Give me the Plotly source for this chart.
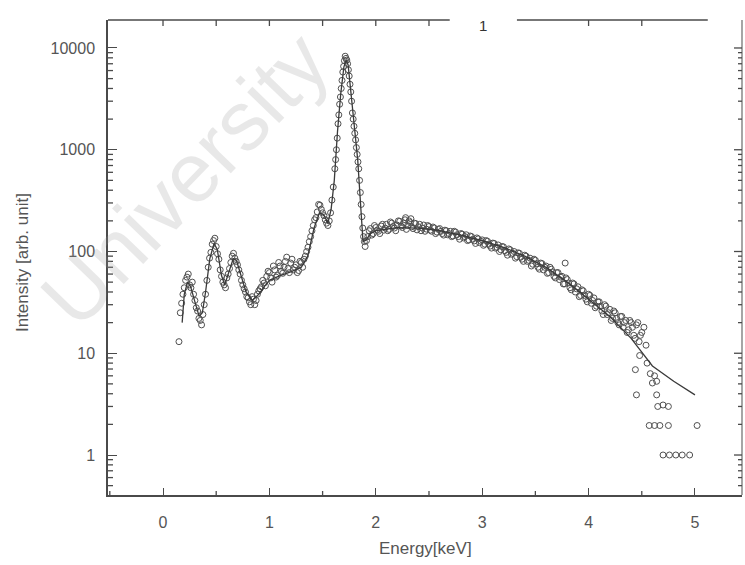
import plotly.graph_objects as go

# Measured spectrum: photon energy (keV) and intensity (arb. unit), two sweeps
energy_low = [0.150, 0.175, 0.200, 0.225, 0.250, 0.275, 0.300, 0.325, 0.350, 0.375,
              0.400, 0.425, 0.450, 0.475, 0.500, 0.525, 0.550, 0.575, 0.600, 0.625,
              0.650, 0.675, 0.700, 0.725, 0.750, 0.775, 0.800, 0.825, 0.850, 0.875,
              0.900, 0.925, 0.950, 0.975, 1.000, 1.025, 1.050, 1.075, 1.100, 1.125,
              1.150, 1.175, 1.200, 1.225, 1.250, 1.275, 1.300, 1.325, 1.350, 1.375,
              1.400, 1.425, 1.450, 1.475, 1.500, 1.525, 1.550, 1.575, 1.600]
counts_low = [13, 31, 44, 56, 47, 50, 33, 26, 21, 24,
              38, 70, 98, 128, 112, 84, 57, 47, 55, 68,
              90, 86, 74, 60, 47, 40, 35, 30, 34, 33,
              41, 45, 49, 57, 62, 50, 66, 58, 72, 61,
              80, 68, 77, 66, 74, 65, 78, 84, 100, 125,
              160, 205, 245, 285, 240, 205, 180, 240, 430]

energy_low_b = [0.1625, 0.1875, 0.2125, 0.2375, 0.2625, 0.2875, 0.3125, 0.3375, 0.3625, 0.3875,
                0.4125, 0.4375, 0.4625, 0.4875, 0.5125, 0.5375, 0.5625, 0.5875, 0.6125, 0.6375,
                0.6625, 0.6875, 0.7125, 0.7375, 0.7625, 0.7875, 0.8125, 0.8375, 0.8625, 0.8875,
                0.9125, 0.9375, 0.9625, 0.9875, 1.0125, 1.0375, 1.0625, 1.0875, 1.1125, 1.1375,
                1.1625, 1.1875, 1.2125, 1.2375, 1.2625, 1.2875, 1.3125, 1.3375, 1.3625, 1.3875,
                1.4125, 1.4375, 1.4625, 1.4875, 1.5125, 1.5375, 1.5625, 1.5875]
counts_low_b = [25, 38, 52, 60, 44, 38, 28, 22, 19, 30,
                52, 86, 118, 135, 95, 66, 50, 44, 60, 78,
                96, 80, 66, 52, 43, 36, 32, 36, 30, 38,
                43, 52, 46, 64, 55, 72, 56, 78, 64, 70,
                88, 62, 84, 70, 62, 80, 70, 90, 110, 140,
                180, 215, 290, 260, 225, 190, 200, 320]

energy_peak = [1.615, 1.630, 1.645, 1.660, 1.675, 1.690, 1.705, 1.720, 1.735, 1.750,
               1.765, 1.780, 1.795, 1.810, 1.825, 1.840, 1.855, 1.870, 1.885]
counts_peak = [650, 1000, 1800, 2800, 4000, 5800, 7500, 7900, 7000, 5300,
               3700, 2300, 1700, 1250, 900, 650, 380, 220, 140]

energy_peak_b = [1.6225, 1.6375, 1.6525, 1.6675, 1.6825, 1.6975, 1.7125, 1.7275, 1.7425, 1.7575,
                 1.7725, 1.7875, 1.8025, 1.8175, 1.8325, 1.8475, 1.8625, 1.8775, 1.8925]
counts_peak_b = [800, 1300, 2200, 3300, 4800, 6600, 8300, 7600, 6100, 4400,
                 3000, 2000, 1450, 1050, 760, 500, 290, 170, 125]

energy_high = [1.900, 1.925, 1.950, 1.975, 2.000, 2.025, 2.050, 2.075, 2.100, 2.125,
               2.150, 2.175, 2.200, 2.225, 2.250, 2.275, 2.300, 2.325, 2.350, 2.375,
               2.400, 2.425, 2.450, 2.475, 2.500, 2.525, 2.550, 2.575, 2.600, 2.625,
               2.650, 2.675, 2.700, 2.725, 2.750, 2.775, 2.800, 2.825, 2.850, 2.875,
               2.900, 2.925, 2.950, 2.975, 3.000, 3.025, 3.050, 3.075, 3.100, 3.125,
               3.150, 3.175, 3.200, 3.225, 3.250, 3.275, 3.300, 3.325, 3.350, 3.375,
               3.400, 3.425, 3.450, 3.475, 3.500, 3.525, 3.550, 3.575, 3.600, 3.625,
               3.650, 3.675, 3.700, 3.725, 3.750, 3.775, 3.800, 3.825, 3.850, 3.875,
               3.900, 3.925, 3.950, 3.975, 4.000, 4.025, 4.050, 4.075, 4.100, 4.125,
               4.150, 4.175, 4.200, 4.225, 4.250, 4.275, 4.300, 4.325, 4.350, 4.375,
               4.400, 4.425, 4.450, 4.475, 4.500]
counts_high = [112, 140, 168, 150, 172, 158, 178, 162, 185, 165,
               190, 170, 182, 198, 172, 205, 180, 192, 168, 188,
               175, 160, 182, 166, 176, 158, 170, 155, 168, 150,
               162, 146, 158, 142, 155, 140, 150, 136, 146, 130,
               140, 127, 136, 122, 130, 118, 126, 113, 121, 108,
               116, 104, 111, 98, 106, 94, 100, 89, 96, 84,
               92, 80, 86, 75, 82, 70, 77, 66, 72, 62,
               67, 57, 62, 53, 57, 48, 53, 44, 49, 40,
               45, 37, 41, 34, 38, 31, 35, 29, 32, 26,
               30, 24, 27, 22, 25, 20, 23, 18, 21, 17,
               20, 15, 19, 13, 16]

energy_high_b = [1.9125, 1.9375, 1.9625, 1.9875, 2.0125, 2.0375, 2.0625, 2.0875, 2.1125, 2.1375,
                 2.1625, 2.1875, 2.2125, 2.2375, 2.2625, 2.2875, 2.3125, 2.3375, 2.3625, 2.3875,
                 2.4125, 2.4375, 2.4625, 2.4875, 2.5125, 2.5375, 2.5625, 2.5875, 2.6125, 2.6375,
                 2.6625, 2.6875, 2.7125, 2.7375, 2.7625, 2.7875, 2.8125, 2.8375, 2.8625, 2.8875,
                 2.9125, 2.9375, 2.9625, 2.9875, 3.0125, 3.0375, 3.0625, 3.0875, 3.1125, 3.1375,
                 3.1625, 3.1875, 3.2125, 3.2375, 3.2625, 3.2875, 3.3125, 3.3375, 3.3625, 3.3875,
                 3.4125, 3.4375, 3.4625, 3.4875, 3.5125, 3.5375, 3.5625, 3.5875, 3.6125, 3.6375,
                 3.6625, 3.6875, 3.7125, 3.7375, 3.7625, 3.7875, 3.8125, 3.8375, 3.8625, 3.8875,
                 3.9125, 3.9375, 3.9625, 3.9875, 4.0125, 4.0375, 4.0625, 4.0875, 4.1125, 4.1375,
                 4.1625, 4.1875, 4.2125, 4.2375, 4.2625, 4.2875, 4.3125, 4.3375, 4.3625, 4.3875,
                 4.4125, 4.4375, 4.4625, 4.4875]
counts_high_b = [128, 160, 145, 180, 162, 150, 185, 170, 160, 195,
                 176, 160, 200, 178, 190, 165, 200, 175, 190, 163,
                 185, 170, 158, 180, 162, 174, 150, 165, 158, 145,
                 160, 150, 140, 158, 146, 132, 148, 140, 128, 142,
                 132, 120, 133, 126, 115, 128, 118, 108, 120, 110,
                 100, 112, 102, 92, 104, 96, 86, 97, 88, 80,
                 90, 82, 72, 84, 76, 67, 76, 70, 61, 70,
                 63, 55, 62, 56, 48, 55, 49, 42, 48, 43,
                 36, 42, 37, 32, 37, 33, 28, 32, 29, 24,
                 29, 25, 21, 26, 22, 19, 23, 20, 16, 21,
                 18, 14, 20, 15]

energy_tail = [2.28, 2.33, 3.78, 4.48, 4.52, 4.54, 4.55, 4.44, 4.58, 4.62,
               4.60, 4.64, 4.45, 4.64, 4.65, 4.70, 4.75, 4.57, 4.62, 4.67,
               4.75, 5.02, 4.70, 4.76, 4.82, 4.88, 4.95]
counts_tail = [215, 210, 77, 9.5, 18, 12, 8, 6.9, 6.3, 6.0,
               5.1, 5.3, 3.9, 3.9, 3.0, 3.1, 3.0, 1.95, 1.95, 1.95,
               1.95, 1.95, 1.0, 1.0, 1.0, 1.0, 1.0]

# Fitted model curve
fit_energy = [0.18, 0.20, 0.23, 0.26, 0.30, 0.34, 0.37, 0.40, 0.44, 0.48,
              0.51, 0.55, 0.58, 0.62, 0.66, 0.69, 0.73, 0.78, 0.84, 0.90,
              0.95, 1.00, 1.10, 1.20, 1.30, 1.36, 1.42, 1.47, 1.51, 1.55,
              1.58, 1.61, 1.64, 1.67, 1.70, 1.72, 1.74, 1.77, 1.80, 1.83,
              1.86, 1.88, 1.91, 1.95, 2.00, 2.20, 2.40, 2.60, 2.80, 3.00,
              3.20, 3.40, 3.60, 3.80, 4.00, 4.20, 4.40, 4.60, 4.80, 5.00]
fit_counts = [20, 38, 50, 45, 32, 23, 25, 40, 85, 120,
              105, 58, 47, 62, 85, 82, 58, 40, 33, 38,
              45, 52, 58, 63, 70, 90, 170, 240, 230, 190,
              260, 500, 1500, 3500, 6500, 7600, 6800, 3300, 1700, 800,
              260, 125, 130, 150, 160, 172, 170, 160, 145, 128,
              110, 90, 70, 50, 34, 23, 14, 7.5, 5.3, 3.9]

# Tick positions
x_ticks = [0, 1, 2, 3, 4, 5]
x_minor_ticks = [-0.5, 0.5, 1.5, 2.5, 3.5, 4.5]
x_top_ticks = [0, 0.5, 1, 1.5, 2, 2.5, 4, 4.5]
y_ticks = [1, 10, 100, 1000, 10000]
y_tick_text = ["1", "10", "100", "1000", "10000"]
y_minor_ticks = [0.5, 0.6, 0.7, 0.8, 0.9,
                 2, 3, 4, 5, 6, 7, 8, 9,
                 20, 30, 40, 50, 60, 70, 80, 90,
                 200, 300, 400, 500, 600, 700, 800, 900,
                 2000, 3000, 4000, 5000, 6000, 7000, 8000, 9000]

ink = "#4a4a4a"
text_col = "#555555"
font_family = "Liberation Sans, Arial, sans-serif"

# plot-area size in pixels, used to express tick lengths in paper units
plot_w, plot_h = 634, 475

data_x = (energy_low + energy_low_b + energy_peak + energy_peak_b
          + energy_high + energy_high_b + energy_tail)
data_y = (counts_low + counts_low_b + counts_peak + counts_peak_b
          + counts_high + counts_high_b + counts_tail)

fig = go.Figure()
fig.add_trace(go.Scatter(
    x=data_x, y=data_y, mode="markers",
    marker=dict(symbol="circle-open", size=6, color="#505050",
                line=dict(width=1, color="#505050")),
    showlegend=False,
))
fig.add_trace(go.Scatter(
    x=fit_energy, y=fit_counts, mode="lines",
    line=dict(color="#3a3a3a", width=1.3),
    showlegend=False,
))


def tick_line(**kw):
    return dict(type="line", line=dict(color=ink, width=1.3), layer="above", **kw)


shapes = []
# frame: broken top edge and right edge
shapes.append(dict(type="line", xref="paper", yref="paper", x0=0, x1=0.539, y0=1, y1=1,
                   line=dict(color=ink, width=1.5), layer="above"))
shapes.append(dict(type="line", xref="paper", yref="paper", x0=0.645, x1=0.946, y0=1, y1=1,
                   line=dict(color=ink, width=1.5), layer="above"))
shapes.append(dict(type="line", xref="paper", yref="paper", x0=1, x1=1, y0=0, y1=1,
                   line=dict(color="#6a6a6a", width=1.2), layer="above"))
# minor ticks on the bottom axis, ticks along the top edge
for v in x_minor_ticks:
    shapes.append(tick_line(xref="x", yref="paper", x0=v, x1=v, y0=0, y1=4 / plot_h))
for v in x_top_ticks:
    shapes.append(tick_line(xref="x", yref="paper", x0=v, x1=v, y0=1, y1=1 - 6 / plot_h))
# minor ticks on the left axis and ticks along the right edge
for v in y_minor_ticks:
    shapes.append(tick_line(xref="paper", yref="y", x0=0, x1=5 / plot_w, y0=v, y1=v))
    shapes.append(tick_line(xref="paper", yref="y", x0=1, x1=1 - 4 / plot_w, y0=v, y1=v))
for v in y_ticks:
    shapes.append(tick_line(xref="paper", yref="y", x0=1, x1=1 - 8 / plot_w, y0=v, y1=v))

fig.update_layout(
    width=745, height=565,
    margin=dict(l=108, r=3, t=20, b=70),
    paper_bgcolor="white", plot_bgcolor="white",
    font=dict(family=font_family, size=16, color=text_col),
    xaxis=dict(
        range=[-0.517, 5.442], tickvals=x_ticks,
        ticks="inside", ticklen=7, tickwidth=1.3, tickcolor=ink,
        showline=True, linecolor=ink, linewidth=1.5,
        showgrid=False, zeroline=False, ticklabelstandoff=12,
    ),
    yaxis=dict(
        type="log", range=[-0.393, 4.275],
        tickvals=y_ticks, ticktext=y_tick_text,
        ticks="inside", ticklen=9, tickwidth=1.3, tickcolor=ink,
        showline=True, linecolor=ink, linewidth=1.5,
        showgrid=False, zeroline=False, ticklabelstandoff=8,
    ),
    shapes=shapes,
    annotations=[
        dict(text="University", xref="paper", yref="paper", x=0.121, y=0.666,
             xanchor="center", yanchor="middle", showarrow=False, textangle=-46,
             opacity=0.22,
             font=dict(size=84, color="#9a9a9a", family=font_family)),
        dict(text="1", xref="paper", yref="paper", x=0.591, y=0.989,
             xanchor="center", yanchor="middle", showarrow=False,
             font=dict(size=15, color="#333333")),
        dict(text="Energy[keV]", xref="paper", yref="paper", x=0.5, y=-0.112,
             xanchor="center", yanchor="middle", showarrow=False,
             font=dict(size=17, color=text_col)),
        dict(text="Intensity [arb. unit]", xref="paper", yref="paper", x=-0.136, y=0.49,
             xanchor="center", yanchor="middle", showarrow=False, textangle=-90,
             font=dict(size=17, color=text_col)),
    ],
)

fig.write_html("out.html")
